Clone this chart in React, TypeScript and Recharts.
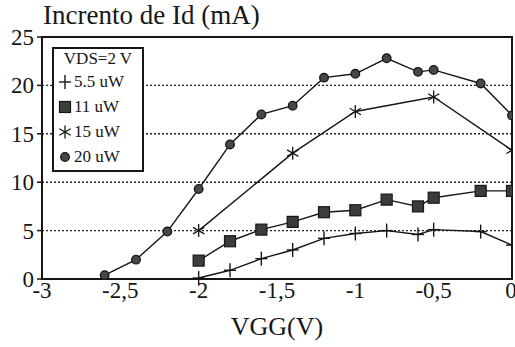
import React from 'react';
import { LineChart, Line, XAxis, YAxis, CartesianGrid, ReferenceArea, Legend } from 'recharts';

const xTicks = [-3, -2.5, -2, -1.5, -1, -0.5, 0];
const yTicks = [0, 5, 10, 15, 20, 25];

// 5.5 uW
const x55 = [-2, -1.8, -1.6, -1.4, -1.2, -1, -0.8, -0.6, -0.5, -0.2, 0];
const y55 = [0.1, 0.9, 2.1, 3.0, 4.2, 4.7, 5.0, 4.6, 5.1, 4.9, 3.5];
// 11 uW
const x11 = [-2, -1.8, -1.6, -1.4, -1.2, -1, -0.8, -0.6, -0.5, -0.2, 0];
const y11 = [1.9, 3.9, 5.1, 5.9, 6.9, 7.1, 8.2, 7.5, 8.4, 9.1, 9.1];
// 15 uW
const x15 = [-2, -1.4, -1, -0.5, 0];
const y15 = [5.0, 13.0, 17.3, 18.8, 13.3];
// 20 uW
const x20 = [-2.6, -2.4, -2.2, -2, -1.8, -1.6, -1.4, -1.2, -1, -0.8, -0.6, -0.5, -0.2, 0];
const y20 = [0.4, 2.0, 4.9, 9.3, 13.9, 17.0, 17.9, 20.8, 21.2, 22.8, 21.4, 21.6, 20.2, 16.9];

const series = [
  { name: '5.5 uW', kind: 'plus', xs: x55, ys: y55 },
  { name: '11 uW', kind: 'square', xs: x11, ys: y11 },
  { name: '15 uW', kind: 'star', xs: x15, ys: y15 },
  { name: '20 uW', kind: 'circle', xs: x20, ys: y20 },
];

const ink = '#161616';
const serif = 'Liberation Serif';

function Marker({ cx, cy, kind }: { cx: number; cy: number; kind: string }) {
  if (kind === 'plus') {
    return (
      <g stroke={ink} strokeWidth={1.4}>
        <line x1={cx - 6} y1={cy} x2={cx + 6} y2={cy} />
        <line x1={cx} y1={cy - 7} x2={cx} y2={cy + 7} />
      </g>
    );
  }
  if (kind === 'square') {
    return <rect x={cx - 5.5} y={cy - 5.5} width={11} height={11} fill="#3c3c3c" stroke={ink} strokeWidth={1.2} />;
  }
  if (kind === 'star') {
    const arms = [90, 30, 150].map((a) => {
      const r = (a * Math.PI) / 180;
      const dx = Math.cos(r) * 6.5;
      const dy = Math.sin(r) * 6.5;
      return <line key={a} x1={cx - dx} y1={cy - dy} x2={cx + dx} y2={cy + dy} />;
    });
    return <g stroke={ink} strokeWidth={1.3}>{arms}</g>;
  }
  return <circle cx={cx} cy={cy} r={4.3} fill="#474747" stroke={ink} strokeWidth={1.3} />;
}

const toRows = (xs: number[], ys: number[]) => xs.map((x, i) => ({ x, y: ys[i] }));

const XTick = ({ x, y, payload }: any) => (
  <text x={x} y={y + 17} textAnchor="middle" fontSize={23} fill={ink} style={{ fontFamily: serif }}>
    {String(payload.value).replace('.', ',')}
  </text>
);

const YTick = ({ x, y, payload }: any) => (
  <text x={x} y={y + 8} textAnchor="end" fontSize={23} fill={ink} style={{ fontFamily: serif }}>
    {payload.value}
  </text>
);

const renderLegend = () => (
  <div
    style={{
      border: `2px solid ${ink}`,
      width: 92,
      height: 125,
      boxSizing: 'border-box',
      background: '#fff',
      fontSize: 17,
      fontFamily: serif,
      color: ink,
    }}
  >
    <div style={{ textAlign: 'center', height: 20, lineHeight: '20px' }}>VDS=2 V</div>
    {series.map((s) => (
      <div key={s.name} style={{ display: 'flex', alignItems: 'center', height: 25 }}>
        <svg width={17} height={16} style={{ marginLeft: 3 }}>
          <Marker cx={8} cy={8} kind={s.kind} />
        </svg>
        <span>{s.name}</span>
      </div>
    ))}
  </div>
);

export default function App() {
  return (
    <div style={{ position: 'absolute', left: 0, top: 0, width: 515, height: 347, background: '#fff', fontFamily: serif }}>
      <div style={{ position: 'absolute', left: 43, top: 2, fontSize: 27, lineHeight: '26px', color: ink, whiteSpace: 'nowrap' }}>
        Incrento de Id (mA)
      </div>
      <LineChart width={515} height={347} margin={{ top: 37, right: 3, bottom: 38, left: 0 }}>
        <CartesianGrid vertical={false} strokeDasharray="2 2" stroke="#222" strokeWidth={1.4} />
        <XAxis
          type="number"
          dataKey="x"
          domain={[-3, 0]}
          ticks={xTicks}
          allowDataOverflow
          height={30}
          tickLine={false}
          tickSize={0}
          tickMargin={2}
          tick={<XTick />}
          axisLine={{ stroke: ink, strokeWidth: 2 }}
          label={{ value: 'VGG(V)', position: 'bottom', offset: 8, fontSize: 26, fill: ink, style: { fontFamily: serif } }}
        />
        <YAxis
          type="number"
          domain={[0, 25]}
          ticks={yTicks}
          width={42}
          tickSize={5}
          tickMargin={3}
          tick={<YTick />}
          tickLine={{ stroke: ink, strokeWidth: 1.5 }}
          axisLine={{ stroke: ink, strokeWidth: 2 }}
        />
        <ReferenceArea x1={-3} x2={0} y1={0} y2={25} fill="none" stroke={ink} strokeWidth={2} />
        {series.map((s) => (
          <Line
            key={s.name}
            name={s.name}
            data={toRows(s.xs, s.ys)}
            dataKey="y"
            stroke={ink}
            strokeWidth={1.4}
            isAnimationActive={false}
            dot={(p: any) => <Marker key={`${s.name}-${p.index}`} cx={p.cx} cy={p.cy} kind={s.kind} />}
            activeDot={false}
          />
        ))}
        <Legend
          layout="vertical"
          align="center"
          verticalAlign="middle"
          content={renderLegend}
          wrapperStyle={{ left: 52, top: 47, width: 92, height: 125 }}
        />
      </LineChart>
    </div>
  );
}
